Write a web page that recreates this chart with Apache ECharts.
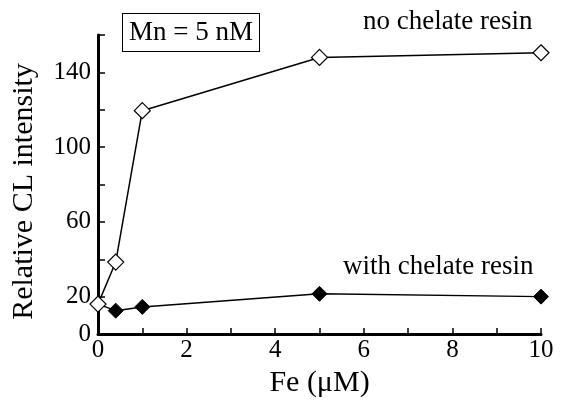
<!DOCTYPE html>
<html><head><meta charset="utf-8">
<script src="https://cdn.jsdelivr.net/npm/echarts@6/dist/echarts.min.js"></script>
<style>html,body{margin:0;padding:0;background:#fff}#c{width:568px;height:403px}</style>
</head><body><div id="c"></div>
<script>
const feX = [0, 0.4, 1, 5, 10];
const noResin = [16, 38.5, 119.5, 148, 150.5];
const withResin = [16, 12.5, 14.5, 21.5, 20];
const yLabelsShown = [0, 20, 60, 100, 140];
const xLabelsShown = [0, 2, 4, 6, 8, 10];

const font = 'Liberation Serif';
const chart = echarts.init(document.getElementById('c'));
const pairs = a => feX.map((x, i) => [x, a[i]]);
chart.setOption({
  animation: false,
  grid: {left: 98, right: 27, top: 35, bottom: 69, outerBoundsMode: 'none', containLabel: false},
  xAxis: {
    type: 'value', min: 0, max: 10, interval: 1,
    name: 'Fe (μM)', nameLocation: 'middle', nameGap: 33,
    nameTextStyle: {fontFamily: font, fontSize: 30, color: '#000'},
    axisLine: {lineStyle: {color: '#000', width: 3}},
    axisTick: {inside: true, length: 6, lineStyle: {color: '#000', width: 1.5}},
    splitLine: {show: false},
    axisLabel: {fontFamily: font, fontSize: 25, color: '#000', margin: 4,
      formatter: v => xLabelsShown.includes(v) ? String(v) : ''}
  },
  yAxis: {
    type: 'value', min: 0, max: 160, interval: 20,
    name: 'Relative CL intensity', nameLocation: 'middle', nameGap: 59,
    nameTextStyle: {fontFamily: font, fontSize: 30, color: '#000', padding: [0, 14, 0, 0]},
    axisLine: {show: true, lineStyle: {color: '#000', width: 3}},
    axisTick: {show: true, inside: true, length: 7, lineStyle: {color: '#000', width: 1.5}},
    splitLine: {show: false},
    axisLabel: {fontFamily: font, fontSize: 25, color: '#000', margin: 7,
      formatter: v => yLabelsShown.includes(v) ? String(v) : ''}
  },
  series: [
    {type: 'line', data: pairs(withResin), symbol: 'diamond', symbolSize: 15,
      lineStyle: {color: '#000', width: 1.5},
      itemStyle: {color: '#000', borderColor: '#000', borderWidth: 1}, z: 2},
    {type: 'line', data: pairs(noResin), symbol: 'diamond', symbolSize: 16,
      lineStyle: {color: '#000', width: 1.5},
      itemStyle: {color: '#fff', borderColor: '#000', borderWidth: 1.2}, z: 3}
  ],
  graphic: [
    {type: 'text', left: 363, top: 8,
      style: {text: 'no chelate resin', font: '27px "Liberation Serif"', fill: '#000'}},
    {type: 'text', left: 343, top: 253,
      style: {text: 'with chelate resin', font: '27px "Liberation Serif"', fill: '#000'}},
    {type: 'text', left: 122, top: 13,
      style: {text: 'Mn = 5 nM', font: '27px "Liberation Serif"', fill: '#000',
        backgroundColor: '#fff', borderColor: '#000', borderWidth: 1,
        padding: [5, 6, 5, 6]}}
  ]
});
</script></body></html>
